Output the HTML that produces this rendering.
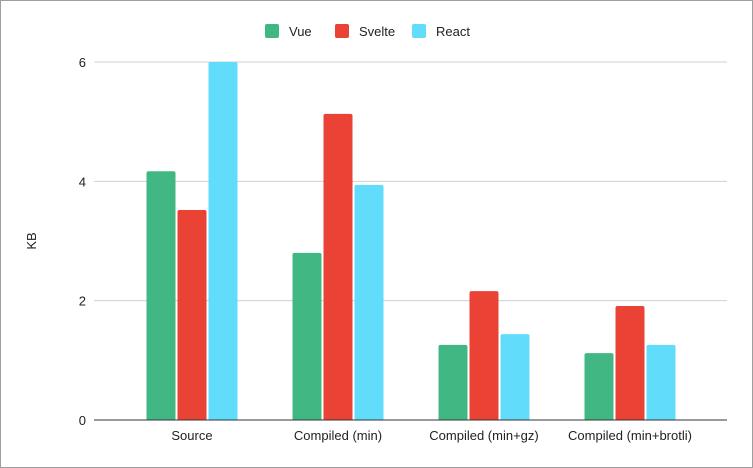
<!DOCTYPE html>
<html><head><meta charset="utf-8"><style>
html,body{margin:0;padding:0;background:#fff}
svg{display:block;font-family:"Liberation Sans",Arial,sans-serif}
</style></head><body>
<svg id="chart" width="753" height="468" xmlns="http://www.w3.org/2000/svg">
<rect x="0.5" y="0.5" width="752" height="467" fill="#fff" stroke="#9e9e9e"/>
<g id="legend"></g>
<g id="grid"></g>
<g id="bars"></g>
<g id="xlabels"></g>
<text x="36" y="241" transform="rotate(-90 36 241)" text-anchor="middle" font-size="13" fill="#222">KB</text>
</svg>
<script>
const categories = ["Source","Compiled (min)","Compiled (min+gz)","Compiled (min+brotli)"];
const seriesNames = ["Vue","Svelte","React"];
const vueValues = [4.17, 2.8, 1.26, 1.12];
const svelteValues = [3.52, 5.13, 2.16, 1.91];
const reactValues = [6.0, 3.94, 1.44, 1.26];
const yTicks = [0, 2, 4, 6];

const NS="http://www.w3.org/2000/svg";
const colors=["#41b883","#ea4335","#62dcfb"];
const series=[vueValues,svelteValues,reactValues];
const y0=420, y1=62, yMax=6;
const yScale=v=>y0-(v/yMax)*(y0-y1);
const bandStart=119, bandStep=146, barW=29, barGap=2;
const xCenter=i=>bandStart+bandStep*(i+0.5);
function mk(tag,attrs,parent){const e=document.createElementNS(NS,tag);for(const k in attrs)e.setAttribute(k,attrs[k]);parent.appendChild(e);return e;}
const grid=document.getElementById('grid');
yTicks.forEach(t=>{
  const y=yScale(t);
  const l=mk('line',{x1:94,x2:727,y1:y,y2:y,stroke:t===0?'#333':'#d0d0d0','stroke-width':1},grid);
  
  
  const tx=mk('text',{x:86,y:y+5,'text-anchor':'end','font-size':13,fill:'#222'},grid);
  tx.textContent=t;
  
  
});
const bars=document.getElementById('bars');
categories.forEach((c,i)=>{
  const total=series.length*barW+(series.length-1)*barGap;
  series.forEach((s,j)=>{
    const x=xCenter(i)-total/2+j*(barW+barGap);
    const y=yScale(s[i]);
    const r=mk('path',{d:`M${x},${y0} L${x},${y+2} Q${x},${y} ${x+2},${y} L${x+barW-2},${y} Q${x+barW},${y} ${x+barW},${y+2} L${x+barW},${y0} Z`,fill:colors[j]},bars);
    
    
  });
  const t=mk('text',{x:xCenter(i),y:440,'text-anchor':'middle','font-size':13,fill:'#222'},document.getElementById('xlabels'));
  t.textContent=c;
  
  
});
// redraw baseline on top
const base=mk('line',{x1:94,x2:727,y1:y0,y2:y0,stroke:'#333','stroke-width':1},bars);


const legend=document.getElementById('legend');
const lx=[265,335,412];
seriesNames.forEach((n,j)=>{
  const g=mk('g',{},legend);
  
  
  mk('rect',{x:lx[j],y:24,width:14,height:14,rx:2,fill:colors[j]},g);
  const t=mk('text',{x:lx[j]+24,y:36,'font-size':13,fill:'#222'},g);
  t.textContent=n;
});
</script>
</body></html>
